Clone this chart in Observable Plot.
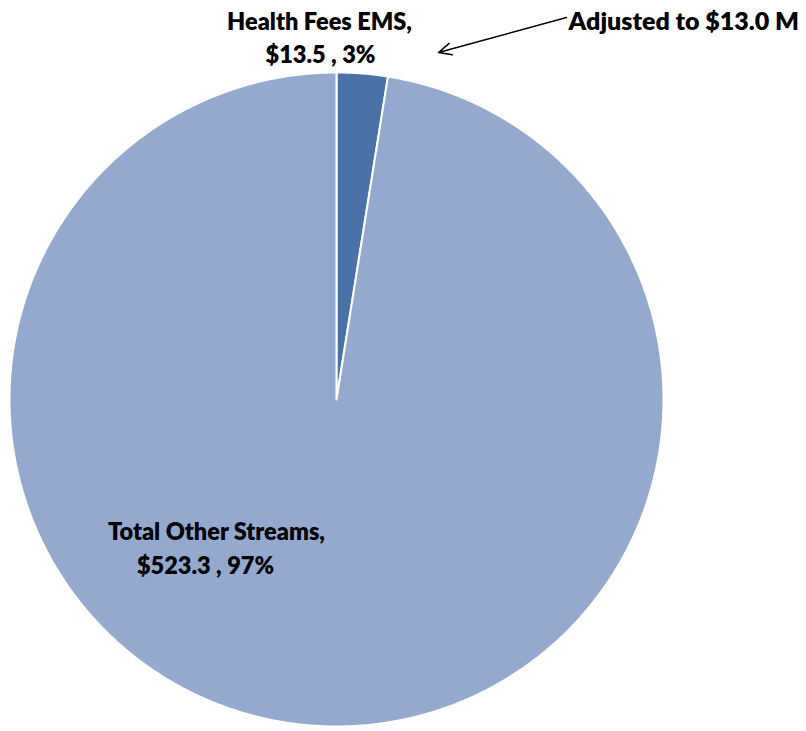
<!DOCTYPE html>
<html>
<head>
<meta charset="utf-8">
<script src="https://cdn.jsdelivr.net/npm/d3@7"></script>
<script src="https://cdn.jsdelivr.net/npm/@observablehq/plot@0.6"></script>
<style>
  html, body { margin: 0; padding: 0; background: #fff; }
  #chart svg { display: block; }
</style>
</head>
<body>
<div id="chart"></div>
<script>
// ---- data ----
const categories = ["Health Fees EMS", "Total Other Streams"];
const values = [13.5, 523.3];
const percents = ["3%", "97%"];
const colors = ["#4A72A6", "#95A9CF"];
const note = "Adjusted to $13.0 M";

// ---- layout ----
const W = 806, H = 731;
const cx = 336, cy = 399, R = 327;
const mL = cx - R, mR = W - (cx + R), mT = cy - R, mB = H - (cy + R);
const toX = px => (px - cx) / R;
const toY = py => (cy - py) / R;

// build slice polygons from values with d3.pie
const arcs = d3.pie().sort(null).value(d => d)(values);
const slices = arcs.map((a, i) => {
  const pts = [{x: 0, y: 0}];
  const n = Math.max(4, Math.ceil((a.endAngle - a.startAngle) / (Math.PI / 720)));
  for (let k = 0; k <= n; k++) {
    const t = a.startAngle + (a.endAngle - a.startAngle) * k / n;
    pts.push({x: Math.sin(t), y: Math.cos(t)});
  }
  pts.push({x: 0, y: 0});
  return pts;
});

const font = "Lato, 'Open Sans', sans-serif";
const labels = [
  {px: 319, py: 29, text: categories[0] + ","},
  {px: 320, py: 62, text: "$" + values[0].toFixed(1) + " , " + percents[0]},
  {px: 216, py: 539, text: categories[1] + ","},
  {px: 205, py: 573, text: "$" + values[1].toFixed(1) + " , " + percents[1]}
];

const plot = Plot.plot({
  width: W, height: H,
  marginLeft: mL, marginRight: mR, marginTop: mT, marginBottom: mB,
  x: {domain: [-1, 1], axis: null},
  y: {domain: [-1, 1], axis: null},
  style: {overflow: "visible", fontFamily: font},
  marks: [
    ...slices.map((pts, i) => Plot.line(pts, {
      x: "x", y: "y", fill: colors[i], stroke: "white", strokeWidth: 2, curve: "linear"
    })),
    Plot.text(labels, {
      x: d => toX(d.px), y: d => toY(d.py), text: "text",
      fontSize: 23.5, fontWeight: 800, fill: "black", textAnchor: "middle", lineAnchor: "bottom"
    }),
    Plot.text([note], {
      x: toX(568), y: toY(29), text: d => d,
      fontSize: 25, fontWeight: 800, fill: "black", textAnchor: "start", lineAnchor: "bottom"
    }),
    Plot.arrow([note], {
      x1: toX(566), y1: toY(17), x2: toX(438), y2: toY(52),
      stroke: "black", strokeWidth: 1.5, headLength: 14, headAngle: 50
    })
  ]
});
document.getElementById("chart").appendChild(plot);
</script>
</body>
</html>
